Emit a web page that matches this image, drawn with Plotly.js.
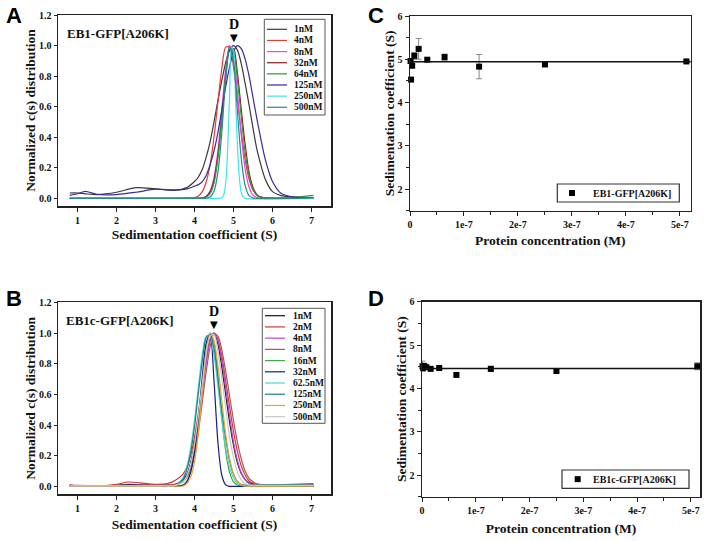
<!DOCTYPE html>
<html>
<head>
<meta charset="utf-8">
<script src="https://cdn.plot.ly/plotly-3.0.1.min.js"></script>
<style>
  html, body { margin: 0; padding: 0; background: #fff; }
  #gd { width: 709px; height: 541px; }
</style>
</head>
<body>
<div id="gd"></div>
<script>
// ---- panel A : EB1-GFP[A206K] c(s) distributions ----
var sA = [0.8,1.0,1.2,1.5,2.0,2.5,3.0,3.5,3.8,4.0,4.1,4.2,4.3,4.4,4.5,4.6,4.7,4.8,4.9,5.0,5.1,5.2,5.3,5.4,5.5,5.6,5.7,5.8,5.9,6.0,6.2,6.5,7.05];
var namesA = ["1nM","4nM","8nM","32nM","64nM","125nM","250nM","500nM"];
var colorsA = ["#3a3a3a","#e03a3a","#f040f0","#8e1c1c","#2f9a3a","#3a2a9a","#3ae8e8","#2a8a86"];
var a1 = [0.035,0.035,0.03,0.025,0.04,0.07,0.062,0.052,0.07,0.11,0.14,0.19,0.27,0.37,0.50,0.64,0.77,0.89,0.97,1.00,0.97,0.88,0.75,0.61,0.46,0.32,0.22,0.135,0.08,0.044,0.02,0.01,0.005];
var a4 = [0,0,0,0,0,0,0,0,0.001,0.005,0.016,0.044,0.107,0.22,0.40,0.63,0.85,0.99,0.99,0.86,0.65,0.43,0.25,0.125,0.055,0.021,0.008,0.003,0.001,0,0,0,0.005];
var a8 = [0,0,0,0,0,0,0,0,0,0,0,0.003,0.013,0.047,0.135,0.31,0.58,0.85,1.0,0.93,0.69,0.41,0.19,0.073,0.022,0.006,0,0,0,0,0,0,0.003];
var a32 = [0,0,0,0,0,0,0,0,0,0,0.001,0.003,0.013,0.044,0.12,0.28,0.52,0.79,0.97,0.98,0.82,0.58,0.35,0.17,0.072,0.025,0.008,0.003,0.001,0,0,0,0.005];
var a64 = [0,0,0,0,0,0,0,0,0,0,0,0.001,0.007,0.03,0.10,0.26,0.52,0.81,0.99,0.96,0.78,0.53,0.30,0.15,0.06,0.02,0.007,0.003,0.002,0.002,0.002,0.005,0.02];
var a125 = [0.02,0.03,0.046,0.026,0.025,0.04,0.06,0.055,0.062,0.08,0.09,0.11,0.15,0.22,0.31,0.43,0.58,0.73,0.86,0.96,1.0,0.98,0.91,0.80,0.66,0.52,0.39,0.27,0.18,0.11,0.037,0.01,0.005];
var sA250 = [0.8,4.6,4.7,4.75,4.8,4.85,4.9,4.95,5.0,5.05,5.1,5.15,5.2,5.25,5.3,7.05];
var a250 = [0,0,0.003,0.023,0.10,0.32,0.68,0.99,0.97,0.67,0.35,0.135,0.038,0.008,0,0];
var a500 = [0,0,0,0,0,0,0,0,0,0,0,0,0.002,0.009,0.047,0.17,0.43,0.78,0.99,0.90,0.57,0.26,0.082,0.018,0.003,0,0,0,0,0,0,0,0.003];
var peakA = 5.02;

// ---- panel B : EB1c-GFP[A206K] c(s) distributions ----
var sB = [0.8,1.0,1.5,2.0,2.3,2.6,3.0,3.3,3.5,3.7,3.8,3.9,4.0,4.1,4.2,4.3,4.4,4.5,4.6,4.7,4.8,4.9,5.0,5.1,5.2,5.3,5.4,5.5,5.6,5.8,6.0,6.5,7.05];
var namesB = ["1nM","2nM","4nM","8nM","16nM","32nM","62.5nM","125nM","250nM","500nM"];
var colorsB = ["#151515","#d83434","#c040d8","#a85858","#40a848","#1c1c88","#48d8d8","#1f8080","#f0a030","#c8c8c8"];
var b1 = [0.008,0.005,0.004,0.008,0.015,0.012,0.01,0.01,0.015,0.044,0.077,0.155,0.28,0.45,0.65,0.84,0.96,1.0,0.93,0.78,0.60,0.42,0.27,0.155,0.085,0.045,0.025,0.017,0.013,0.01,0.01,0.01,0.01];
var b2 = [0.01,0.005,0.003,0.015,0.03,0.025,0.015,0.02,0.04,0.08,0.125,0.2,0.32,0.48,0.66,0.83,0.955,1.0,0.96,0.85,0.69,0.52,0.36,0.23,0.135,0.074,0.037,0.022,0.012,0.008,0.005,0.005,0.005];
var b4 = [0.01,0.008,0.006,0.008,0.01,0.01,0.01,0.01,0.012,0.03,0.066,0.135,0.25,0.41,0.61,0.80,0.95,1.0,0.95,0.82,0.64,0.46,0.29,0.17,0.09,0.044,0.02,0.012,0.01,0.01,0.01,0.01,0.01];
var b8 = [0.008,0.006,0.005,0.008,0.012,0.01,0.01,0.01,0.013,0.032,0.06,0.11,0.21,0.36,0.55,0.75,0.91,0.995,0.98,0.89,0.75,0.59,0.43,0.29,0.18,0.10,0.054,0.032,0.018,0.01,0.008,0.006,0.006];
var b16 = [0.005,0.005,0.005,0.005,0.005,0.005,0.005,0.005,0.005,0.011,0.035,0.095,0.22,0.41,0.66,0.88,1.0,0.94,0.72,0.45,0.23,0.093,0.031,0.01,0.005,0.005,0.005,0.005,0.005,0.005,0.005,0.005,0.005];
var b32 = [0.003,0.003,0.003,0.006,0.012,0.008,0.004,0.003,0.003,0.008,0.03,0.093,0.225,0.445,0.715,0.935,0.99,0.69,0.29,0.074,0.011,0.002,0.002,0.002,0.002,0.002,0.002,0.002,0.002,0.002,0.002,0.002,0.002];
var b62 = [0.005,0.005,0.005,0.005,0.005,0.005,0.005,0.005,0.007,0.055,0.125,0.25,0.43,0.65,0.86,0.98,0.98,0.86,0.65,0.43,0.25,0.125,0.055,0.021,0.007,0.005,0.005,0.005,0.005,0.005,0.005,0.005,0.005];
var b125 = [0.004,0.004,0.004,0.004,0.004,0.004,0.004,0.004,0.006,0.046,0.108,0.22,0.39,0.61,0.82,0.97,0.99,0.90,0.71,0.50,0.31,0.17,0.08,0.034,0.013,0.01,0.01,0.01,0.01,0.011,0.012,0.015,0.02];
var b250 = [0.003,0.003,0.003,0.003,0.003,0.003,0.003,0.003,0.003,0.004,0.019,0.061,0.16,0.35,0.61,0.86,1.0,0.95,0.79,0.56,0.34,0.18,0.083,0.033,0.012,0.005,0.003,0.003,0.003,0.003,0.003,0.003,0.003];
var b500 = [0.005,0.005,0.005,0.005,0.005,0.005,0.005,0.005,0.008,0.028,0.068,0.145,0.275,0.46,0.67,0.87,0.98,0.99,0.88,0.71,0.51,0.32,0.19,0.095,0.044,0.018,0.01,0.008,0.008,0.008,0.008,0.008,0.008];
var peakB = 4.49;

// ---- panels C and D : sedimentation coefficient vs concentration ----
var concC = [1e-9,2e-9,4e-9,8e-9,1.6e-8,3.2e-8,6.4e-8,1.28e-7,2.5e-7,5.12e-7];
var sedC = [4.96,4.53,4.85,5.08,5.24,4.99,5.05,4.83,4.88,4.95];
var errC = [0.02,0.02,0.03,0.08,0.24,0.03,0.07,0.28,0.03,0.02];
var fitC = 4.94;
var concD = [1e-9,2e-9,4e-9,8e-9,1.6e-8,3.2e-8,6.4e-8,1.28e-7,2.5e-7,5.12e-7];
var sedD = [4.51,4.47,4.52,4.49,4.45,4.47,4.31,4.45,4.40,4.51];
var errD = [0.12,0.05,0.04,0.03,0.02,0.03,0.02,0.06,0.03,0.08];
var fitD = 4.46;
var concTicks = [0,1e-7,2e-7,3e-7,4e-7,5e-7];
var concTickText = ["0","1e-7","2e-7","3e-7","4e-7","5e-7"];

var W = 709, H = 541;
var SERIF = "Liberation Serif, Times New Roman, serif";
function fx(px) { return px / W; }
function fy(py) { return 1 - py / H; }

var traces = [];
var seriesA = [a1, a4, a8, a32, a64, a125, a250, a500];
seriesA.forEach(function (ys, i) {
  traces.push({
    x: ys === a250 ? sA250 : sA, y: ys, mode: "lines", xaxis: "x", yaxis: "y",
    line: { color: colorsA[i], width: 1.2, shape: "spline", smoothing: 0.8 },
    name: namesA[i], hoverinfo: "skip"
  });
});
var seriesB = [b1, b2, b4, b8, b16, b32, b62, b125, b250, b500];
seriesB.forEach(function (ys, i) {
  traces.push({
    x: sB, y: ys, mode: "lines", xaxis: "x2", yaxis: "y2",
    line: { color: colorsB[i], width: 1.2, shape: "spline", smoothing: 0.8 },
    name: namesB[i], hoverinfo: "skip"
  });
});
traces.push({
  x: concC, y: sedC, mode: "markers", xaxis: "x3", yaxis: "y3", cliponaxis: false,
  marker: { symbol: "square", size: 6, color: "#000" },
  error_y: { type: "data", array: errC, color: "#888", thickness: 1, width: 3 }
});
traces.push({
  x: concD, y: sedD, mode: "markers", xaxis: "x4", yaxis: "y4", cliponaxis: false,
  marker: { symbol: "square", size: 6, color: "#000" },
  error_y: { type: "data", array: errD, color: "#888", thickness: 1, width: 3 }
});

var tickFont = { family: SERIF, size: 10, color: "#111", weight: "bold" };
var titleFont = { family: SERIF, size: 13.5, color: "#111", weight: "bold" };

function frame(extra) {
  var ax = {
    showline: true, mirror: true, linecolor: "#222", linewidth: 1.5,
    showgrid: false, zeroline: false, ticks: "outside", ticklen: 4,
    tickcolor: "#222", tickwidth: 1, tickfont: tickFont, fixedrange: true
  };
  for (var k in extra) ax[k] = extra[k];
  return ax;
}

var layout = {
  width: W, height: H, autosize: false, showlegend: false,
  margin: { l: 0, r: 0, t: 0, b: 0 },
  paper_bgcolor: "#fff", plot_bgcolor: "#fff",
  xaxis: frame({ domain: [fx(58), fx(331)], anchor: "y", range: [0.5, 7.5], dtick: 1, tick0: 1,
    title: { text: "Sedimentation coefficient (S)", font: titleFont, standoff: 5 } }),
  yaxis: frame({ domain: [fy(206), fy(15)], anchor: "x", range: [-0.05, 1.2], dtick: 0.2, tick0: 0,
    tickformat: ".1f", ticklen: 3,
    title: { text: "Normalized c(s) distribution", font: titleFont, standoff: 0 } }),
  xaxis2: frame({ domain: [fx(58), fx(331)], anchor: "y2", range: [0.5, 7.5], dtick: 1, tick0: 1,
    title: { text: "Sedimentation coefficient (S)", font: titleFont, standoff: 7 } }),
  yaxis2: frame({ domain: [fy(494.3), fy(302.3)], anchor: "x2", range: [-0.05, 1.2], dtick: 0.2, tick0: 0,
    tickformat: ".1f", ticklen: 3,
    title: { text: "Normalized c(s) distribution", font: titleFont, standoff: 0 } }),
  xaxis3: frame({ domain: [fx(410), fx(690.7)], anchor: "y3", range: [0, 5.2e-7],
    tickmode: "array", tickvals: concTicks, ticktext: concTickText,
    minor: { tickmode: "linear", tick0: 0, dtick: 0.5e-7, ticks: "outside", ticklen: 3, tickcolor: "#222" },
    title: { text: "Protein concentration (M)", font: titleFont, standoff: 6 } }),
  yaxis3: frame({ domain: [fy(210.7), fy(16)], anchor: "x3", range: [1.5, 6], dtick: 1, tick0: 0,
    minor: { dtick: 0.5, ticks: "outside", ticklen: 3, tickcolor: "#222" },
    title: { text: "Sedimentation coefficient (S)", font: titleFont, standoff: 0 } }),
  xaxis4: frame({ domain: [fx(422), fx(700)], anchor: "y4", range: [0, 5.17e-7],
    tickmode: "array", tickvals: concTicks, ticktext: concTickText,
    minor: { tickmode: "linear", tick0: 0, dtick: 0.5e-7, ticks: "outside", ticklen: 3, tickcolor: "#222" },
    title: { text: "Protein concentration (M)", font: titleFont, standoff: 8 } }),
  yaxis4: frame({ domain: [fy(496.7), fy(301.7)], anchor: "x4", range: [1.5, 6], dtick: 1, tick0: 0,
    minor: { dtick: 0.5, ticks: "outside", ticklen: 3, tickcolor: "#222" },
    title: { text: "Sedimentation coefficient (S)", font: titleFont, standoff: 0 } }),
  shapes: [
    { type: "line", xref: "x3 domain", yref: "y3", x0: 0, x1: 1, y0: fitC, y1: fitC, line: { color: "#111", width: 1.5 } },
    { type: "line", xref: "x4 domain", yref: "y4", x0: 0, x1: 1, y0: fitD, y1: fitD, line: { color: "#111", width: 1.5 } }
  ],
  annotations: []
};

function note(text, x, y, size, opts) {
  var a = { text: text, x: x, y: y, xref: "paper", yref: "paper", showarrow: false,
    xanchor: "center", yanchor: "middle",
    font: { family: SERIF, size: size, color: "#111", weight: "bold" } };
  for (var k in opts) a[k] = opts[k];
  layout.annotations.push(a);
}

// panel letters
var SANS = "Liberation Sans, Arial, sans-serif";
[["A", 14, 15], ["C", 376, 15], ["B", 14, 298], ["D", 376, 298]].forEach(function (p) {
  note(p[0], fx(p[1]), fy(p[2]), 22, { font: { family: SANS, size: 22, color: "#000", weight: "bold" } });
});

// sample names inside A and B
note("EB1-GFP[A206K]", fx(65), fy(33.3), 13, { xanchor: "left" });
note("EB1c-GFP[A206K]", fx(64), fy(320), 13, { xanchor: "left" });

// dimer peak markers
[[peakA, "x", "y"], [peakB, "x2", "y2"]].forEach(function (p) {
  layout.annotations.push({ text: "\u25BC", x: p[0], y: 1.054, xref: p[1], yref: p[2], showarrow: false,
    xanchor: "center", yanchor: "middle", font: { family: "DejaVu Sans", size: 10, color: "#000" } });
  layout.annotations.push({ text: "D", x: p[0], y: 1.139, xref: p[1], yref: p[2], showarrow: false,
    xanchor: "center", yanchor: "middle", font: { family: SERIF, size: 14, color: "#000", weight: "bold" } });
});

// line legends for A and B (drawn in paper space)
function lineLegend(names, colors, box, row0, dy, lx0, lx1, tx) {
  layout.shapes.push({ type: "rect", xref: "paper", yref: "paper",
    x0: fx(box[0]), x1: fx(box[2]), y0: fy(box[3]), y1: fy(box[1]),
    line: { color: "#555", width: 1 }, fillcolor: "#fff", layer: "above" });
  names.forEach(function (n, i) {
    var yy = row0 + i * dy;
    layout.shapes.push({ type: "line", xref: "paper", yref: "paper", x0: fx(lx0), x1: fx(lx1),
      y0: fy(yy), y1: fy(yy), line: { color: colors[i], width: 1.2 } });
    note(n, fx(tx), fy(yy), 9.5, { xanchor: "left" });
  });
}
lineLegend(namesA, colorsA, [264.3, 19.3, 325, 115], 29.3, 11.14, 267, 287, 292);
lineLegend(namesB, colorsB, [262.3, 308.3, 325, 423.3], 315.7, 11.22, 265, 285, 291);

// marker legends for C and D
function markLegend(label, box, mx, tx) {
  var my = (box[1] + box[3]) / 2;
  layout.shapes.push({ type: "rect", xref: "paper", yref: "paper",
    x0: fx(box[0]), x1: fx(box[2]), y0: fy(box[3]), y1: fy(box[1]),
    line: { color: "#333", width: 1.2 }, fillcolor: "#fff" });
  layout.shapes.push({ type: "rect", xref: "paper", yref: "paper",
    x0: fx(mx - 3), x1: fx(mx + 3), y0: fy(my + 3), y1: fy(my - 3),
    line: { width: 0 }, fillcolor: "#000" });
  note(label, fx(tx), fy(my), 10, { xanchor: "left" });
}
markLegend("EB1-GFP[A206K]", [557.3, 184, 679.3, 202], 572, 591);
markLegend("EB1c-GFP[A206K]", [562, 470, 689, 488.3], 577.7, 591);

Plotly.newPlot("gd", traces, layout, { staticPlot: true, displayModeBar: false });
</script>
</body>
</html>
